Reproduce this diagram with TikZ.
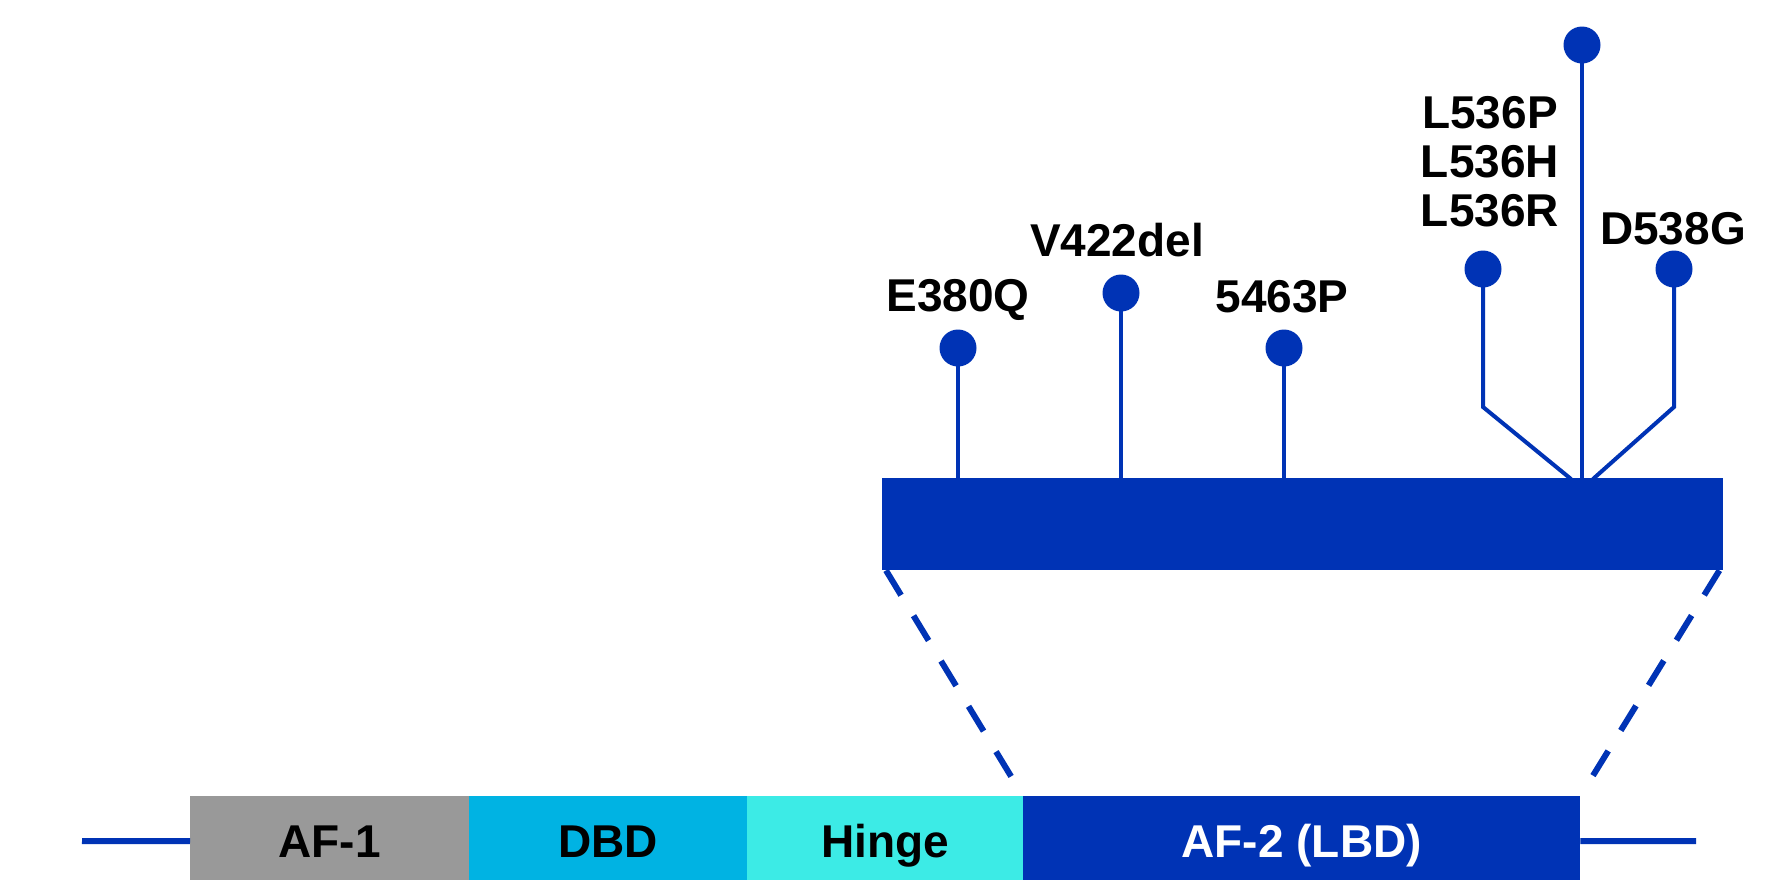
\documentclass[tikz,border=0pt]{standalone}
\usepackage{fontspec}
\setmainfont{Liberation Sans}
\definecolor{dblue}{HTML}{0033B5}
\definecolor{afgray}{HTML}{999999}
\definecolor{dbdblue}{HTML}{00B3E3}
\definecolor{hingecyan}{HTML}{3CEBE6}
\tikzset{
  dom/.style={rectangle, draw=none, inner sep=0pt, minimum height=90pt, anchor=north west,
    font=\fontsize{46}{50}\selectfont\bfseries, text height=33pt, text depth=0pt},
  pin/.style={circle, fill=dblue, draw=none, inner sep=0pt, minimum size=37pt},
  stem/.style={dblue, line width=4pt},
  mut/.style={anchor=base, inner sep=0pt, font=\fontsize{46}{50}\selectfont\bfseries},
  zoomline/.style={dblue, line width=6pt, dash pattern=on 29pt off 24pt},
  endline/.style={dblue, line width=6pt}
}
\begin{document}
\begin{tikzpicture}[x=1pt, y=-1pt]
\clip (0,0) rectangle (1782,879);
\fill[white] (0,0) rectangle (1782,879);
% bottom domain bar
\node[dom, fill=afgray, minimum width=279pt] (af1) at (190,796) {AF-1};
\node[dom, fill=dbdblue, minimum width=278pt] (dbd) at (469,796) {DBD};
\node[dom, fill=hingecyan, minimum width=276pt] (hinge) at (747,796) {Hinge};
\node[dom, fill=dblue, text=white, minimum width=557pt] (af2) at (1023,796) {AF-2 (LBD)};
\coordinate (lend) at (82,841);
\coordinate (rend) at (1696,841);
\draw[endline] (lend) -- (af1.west);
\draw[endline] (af2.east) -- (rend);
% zoomed LBD bar
\node[rectangle, fill=dblue, inner sep=0pt, minimum width=841pt, minimum height=92pt, anchor=north west] (bar) at (882,478) {};
\coordinate (zl) at ([xshift=4pt]bar.south west);
\coordinate (zr) at ([xshift=-4pt]bar.south east);
\draw[zoomline] (zl) -- (af2.north west);
\draw[zoomline] (zr) -- (af2.north east);
% pins
\node[pin] (p1) at (958,348) {};
\node[pin] (p2) at (1121,293) {};
\node[pin] (p3) at (1284,348) {};
\node[pin] (p4) at (1483,269) {};
\node[pin] (p5) at (1582,45) {};
\node[pin] (p6) at (1674,269) {};
\draw[stem] (p1.center) -- (p1.center |- bar.north);
\draw[stem] (p2.center) -- (p2.center |- bar.north);
\draw[stem] (p3.center) -- (p3.center |- bar.north);
\draw[stem] (p5.center) -- (p5.center |- bar.north);
\coordinate (b4) at (1483,407);
\coordinate (e4) at (1571,479);
\coordinate (b6) at (1674,407);
\coordinate (e6) at (1593,479);
\draw[stem] (p4.center) -- (b4) -- (e4);
\draw[stem] (p6.center) -- (b6) -- (e6);
% labels
\node[mut] (l1) at (958,311) {E380Q};
\node[mut] (l2) at (1117,256) {V422del};
\node[mut] (l3) at (1282,312) {5463P};
\node[mut] (l4a) at (1490,128) {L536P};
\node[mut] (l4b) at (1490,177) {L536H};
\node[mut] (l4c) at (1490,226) {L536R};
\node[mut] (l6) at (1673,244) {D538G};
\end{tikzpicture}
\end{document}
